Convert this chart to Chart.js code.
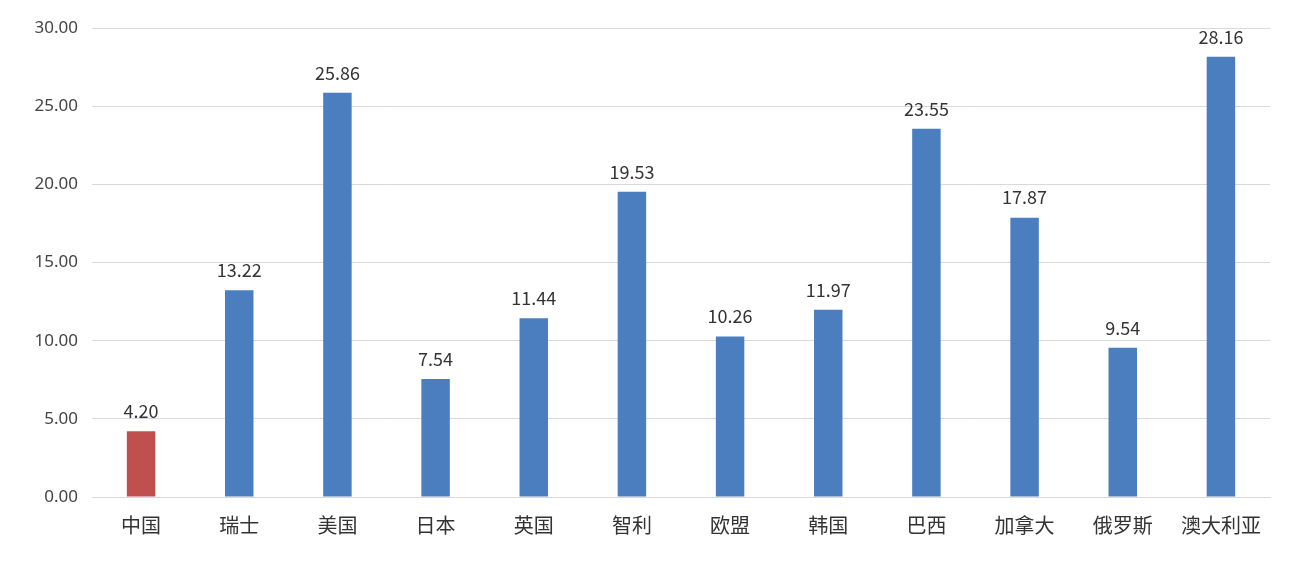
<!DOCTYPE html>
<html>
<head>
<meta charset="utf-8">
<style>
  body { margin: 0; background: #fff; }
  #wrap { width: 1302px; height: 564px; }
</style>
<script src="https://cdn.jsdelivr.net/npm/chart.js@4.4.0/dist/chart.umd.min.js"></script>
</head>
<body>
<div id="wrap"><canvas id="c"></canvas></div>
<script>
var categories = ['中国', '瑞士', '美国', '日本', '英国', '智利', '欧盟', '韩国', '巴西', '加拿大', '俄罗斯', '澳大利亚'];
var values = [4.20, 13.22, 25.86, 7.54, 11.44, 19.53, 10.26, 11.97, 23.55, 17.87, 9.54, 28.16];
var barColors = values.map(function (v, i) { return i === 0 ? '#c0504d' : '#4a7ebf'; });

// value labels above bars
var valueLabels = {
  id: 'valueLabels',
  afterDatasetsDraw: function (chart) {
    var ctx = chart.ctx;
    var meta = chart.getDatasetMeta(0);
    ctx.save();
    ctx.font = '18px "Noto Sans CJK SC", "Noto Sans", sans-serif';
    ctx.fillStyle = '#333';
    ctx.textAlign = 'center';
    ctx.textBaseline = 'bottom';
    meta.data.forEach(function (bar, i) {
      ctx.fillText(values[i].toFixed(2), bar.x, bar.y - 11);
    });
    ctx.restore();
  }
};

new Chart(document.getElementById('c'), {
  type: 'bar',
  data: {
    labels: categories,
    datasets: [{
      data: values,
      backgroundColor: barColors,
      categoryPercentage: 1,
      barPercentage: 0.29
    }]
  },
  options: {
    responsive: true,
    maintainAspectRatio: false,
    animation: false,
    layout: { padding: { top: 28, right: 32, left: 0, bottom: 19 } },
    plugins: { legend: { display: false }, tooltip: { enabled: false } },
    scales: {
      x: {
        grid: { display: false },
        border: { color: '#d9d9d9' },
        ticks: { color: '#333', font: { size: 20, family: '"Noto Sans CJK SC", sans-serif' }, padding: 8 }
      },
      y: {
        min: 0, max: 30,
        afterFit: function (s) { s.width = 92; },
        grid: { color: '#d9d9d9', drawTicks: false },
        border: { display: false },
        ticks: {
          stepSize: 5, padding: 14, color: '#444',
          font: { size: 17, family: '"Noto Sans", sans-serif' },
          callback: function (v) { return v.toFixed(2); }
        }
      }
    }
  },
  plugins: [valueLabels]
});
</script>
</body>
</html>
